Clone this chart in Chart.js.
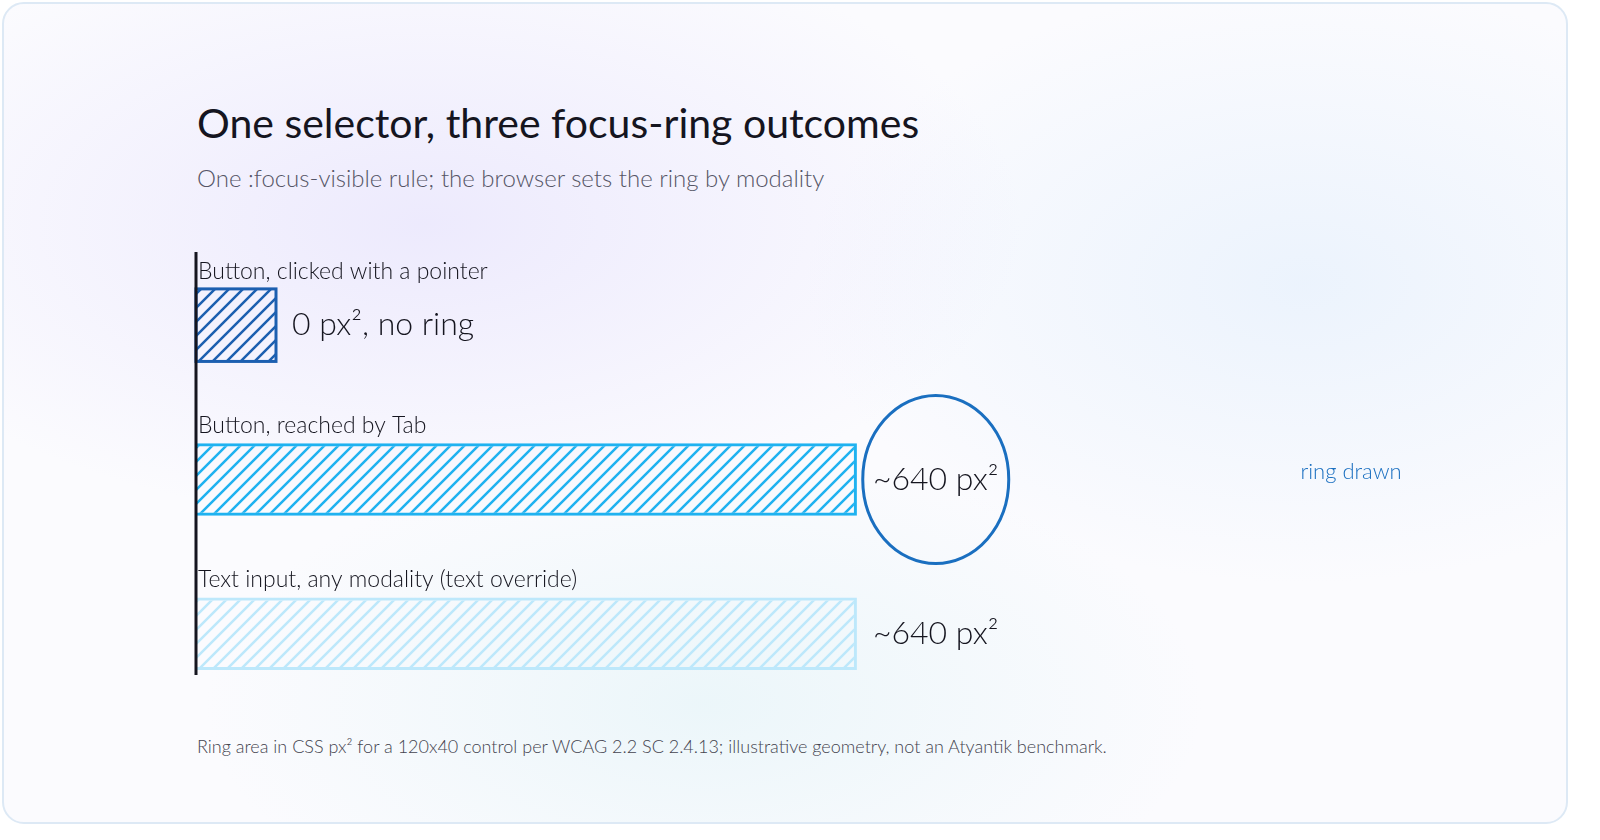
<!DOCTYPE html>
<html><head><meta charset="utf-8">
<script src="https://cdn.jsdelivr.net/npm/chart.js@4"></script>
<style>
  html, body { margin: 0; width: 1600px; height: 840px; overflow: hidden; background: #fff; font-family: Lato, sans-serif; }
  .card { position: absolute; left: 2px; top: 2px; width: 1562px; height: 818px; border: 2px solid #dde9f5; border-radius: 22px;
    background: radial-gradient(ellipse 600px 300px at 420px 220px, rgba(200,190,250,0.28), transparent),
                radial-gradient(ellipse 500px 300px at 1300px 280px, rgba(200,225,250,0.3), transparent),
                radial-gradient(ellipse 500px 250px at 700px 700px, rgba(200,235,240,0.3), transparent), #fbfbfe; }
  .title { position: absolute; left: 197px; top: 98px; font-size: 41px; color: #15151f; font-weight: 400; }
  .sub { position: absolute; left: 197px; top: 163px; font-size: 24px; color: #555566; font-weight: 300; }
  .foot { position: absolute; left: 197px; top: 735px; font-size: 18px; color: #44444f; font-weight: 300; }
  canvas { position: absolute; left: 0; top: 0; }
</style></head>
<body>
<div class="card"></div>
<div class="title">One selector, three focus-ring outcomes</div>
<div class="sub">One :focus-visible rule; the browser sets the ring by modality</div>
<div class="foot">Ring area in CSS px² for a 120x40 control per WCAG 2.2 SC 2.4.13; illustrative geometry, not an Atyantik benchmark.</div>
<canvas id="c" width="1600" height="840"></canvas>
<script>
// ─── Data ───────────────────────────────────────────
const categories = ['Button, clicked with a pointer', 'Button, reached by Tab', 'Text input, any modality (text override)'];
const ringArea = [0, 640, 640];
const valueLabels = ['0 px², no ring', '~640 px²', '~640 px²'];
const ringDrawn = [false, true, false];
const barColors = ['#1c5fb0', '#1fb2f0', '#bde8fb'];
const annotation = 'ring drawn';

function hatch(color) {
  const p = document.createElement('canvas');
  p.width = 14; p.height = 14;
  const g = p.getContext('2d');
  g.strokeStyle = color; g.lineWidth = 2.5;
  g.beginPath();
  g.moveTo(-2, 16); g.lineTo(16, -2);
  g.moveTo(-9, 9); g.lineTo(9, -9);
  g.moveTo(5, 23); g.lineTo(23, 5);
  g.stroke();
  return document.getElementById('c').getContext('2d').createPattern(p, 'repeat');
}

// draws stubs for zero bars, labels, axis and ring
const sketchPlugin = {
  id: 'sketch',
  afterDatasetsDraw(chart) {
    const { ctx, chartArea } = chart;
    const meta = chart.getDatasetMeta(0);
    ctx.save();
    meta.data.forEach((bar, i) => {
      const h = bar.height;
      const top = bar.y - h / 2;
      let right = bar.x;
      if (ringArea[i] === 0) {
        right = bar.base + 80;
        ctx.fillStyle = hatch(barColors[i]);
        ctx.fillRect(bar.base, top, 80, h);
        ctx.strokeStyle = barColors[i]; ctx.lineWidth = 3;
        ctx.strokeRect(bar.base, top, 80, h);
      }
      ctx.fillStyle = '#15151f';
      ctx.font = '300 23px Lato';
      ctx.textBaseline = 'bottom';
      ctx.textAlign = 'left';
      ctx.fillText(categories[i], bar.base + 2, top - 6);
      ctx.font = '300 32px Lato';
      ctx.textBaseline = 'middle';
      const lx = right + 16;
      ctx.fillText(valueLabels[i], lx, bar.y);
      if (ringDrawn[i]) {
        const w = ctx.measureText(valueLabels[i]).width;
        ctx.strokeStyle = '#1a6fc0'; ctx.lineWidth = 3;
        ctx.beginPath();
        ctx.ellipse(lx + w / 2, bar.y, 73, 84, 0, 0, Math.PI * 2);
        ctx.stroke();
        ctx.fillStyle = '#1a6fc0';
        ctx.font = '300 22px Lato';
        ctx.textAlign = 'center';
        ctx.fillText(annotation, chartArea.right - 45, bar.y - 8);
      }
    });
    ctx.strokeStyle = '#15151f'; ctx.lineWidth = 3;
    ctx.beginPath();
    ctx.moveTo(chartArea.left, chartArea.top + 4);
    ctx.lineTo(chartArea.left, chartArea.bottom - 36);
    ctx.stroke();
    ctx.restore();
  }
};

new Chart(document.getElementById('c'), {
  type: 'bar',
  data: {
    labels: categories,
    datasets: [{
      data: ringArea,
      backgroundColor: barColors.map(hatch),
      borderColor: barColors,
      borderWidth: 3,
      barPercentage: 0.94,
      categoryPercentage: 0.5,
    }],
  },
  options: {
    indexAxis: 'y',
    responsive: false,
    animation: false,
    layout: { padding: { left: 196, right: 204, top: 248, bottom: 129 } },
    plugins: { legend: { display: false }, tooltip: { enabled: false } },
    scales: {
      x: { display: false, min: 0, max: 1162 },
      y: { display: false },
    },
  },
  plugins: [sketchPlugin],
});
</script>
</body></html>
